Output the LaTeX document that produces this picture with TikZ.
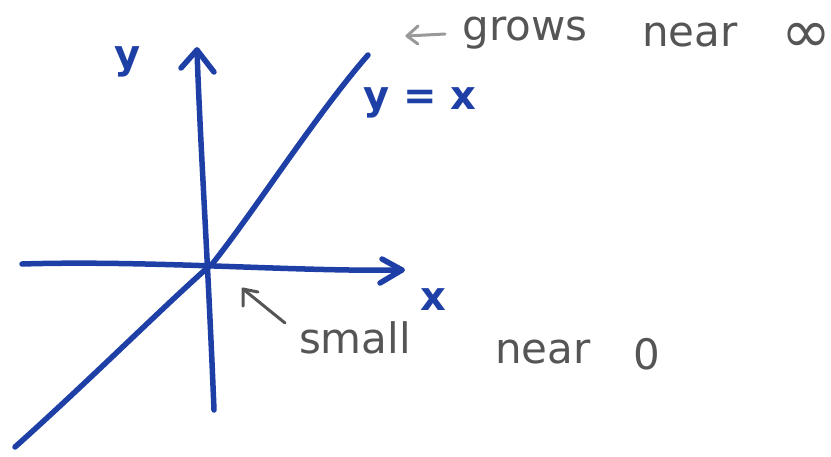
\documentclass[tikz,border=0pt]{standalone}
\usepackage{fontspec}
\setmainfont{DejaVu Sans}
\usetikzlibrary{arrows.meta}
\definecolor{pen}{HTML}{1E3FA6}
\definecolor{pencil}{HTML}{555555}
\tikzset{
  axisline/.style={draw=pen, line width=5.5pt, line cap=round, line join=round},
  bluetxt/.style={text=pen, font=\fontsize{40}{40}\selectfont\bfseries, inner sep=0pt},
  graytxt/.style={text=pencil, font=\fontsize{42}{42}\selectfont, inner sep=0pt},
  noteline/.style={draw=pencil, line width=3pt, line cap=round, line join=round}
}
\begin{document}
\begin{tikzpicture}[x=1pt,y=-1pt]
\useasboundingbox (0,0) rectangle (831,456);
% axes
\coordinate (yb) at (214,410);
\coordinate (yt) at (197,50);
\coordinate (xl) at (22,264);
\coordinate (xr) at (402,270);
\draw[axisline] (yb) .. controls (208,260) and (200,140) .. (yt);
\draw[axisline] (181,68) -- (yt) -- (214,72);
\draw[axisline] (xl) .. controls (150,260) and (300,272) .. (xr);
\draw[axisline] (382,259) -- (xr) -- (380,283);
% curve y=x
\coordinate (cs) at (15,447);
\coordinate (o) at (213,263);
\coordinate (ce) at (368,55);
\draw[axisline] (cs) .. controls (90,380) and (170,300) .. (o) .. controls (255,210) and (318,112) .. (ce);
% labels
\node[bluetxt] (ylab) at (128,62) {y};
\node[bluetxt] (xlab) at (433,300) {x};
\node[bluetxt] (eq) at (420,103) {y = x};
% notes
\coordinate (ga) at (407,36);
\draw[noteline, draw=pencil!60] (445,34) -- (ga);
\draw[noteline, draw=pencil!60] (418,26) -- (ga) -- (418,44);
\node[graytxt] (grows) at (525,33) {grows};
\node[graytxt] (near1) at (690,35) {near};
\node[graytxt, font=\fontsize{60}{60}\selectfont] (inf) at (806,38) {∞};
\coordinate (sa) at (243,289);
\draw[noteline] (285,323) -- (sa);
\draw[noteline] (243,306) -- (sa) -- (258,292);
\node[graytxt] (small) at (355,338) {small};
\node[graytxt] (near2) at (543,352) {near};
\node[graytxt] (zero) at (647,354) {0};
\end{tikzpicture}
\end{document}
